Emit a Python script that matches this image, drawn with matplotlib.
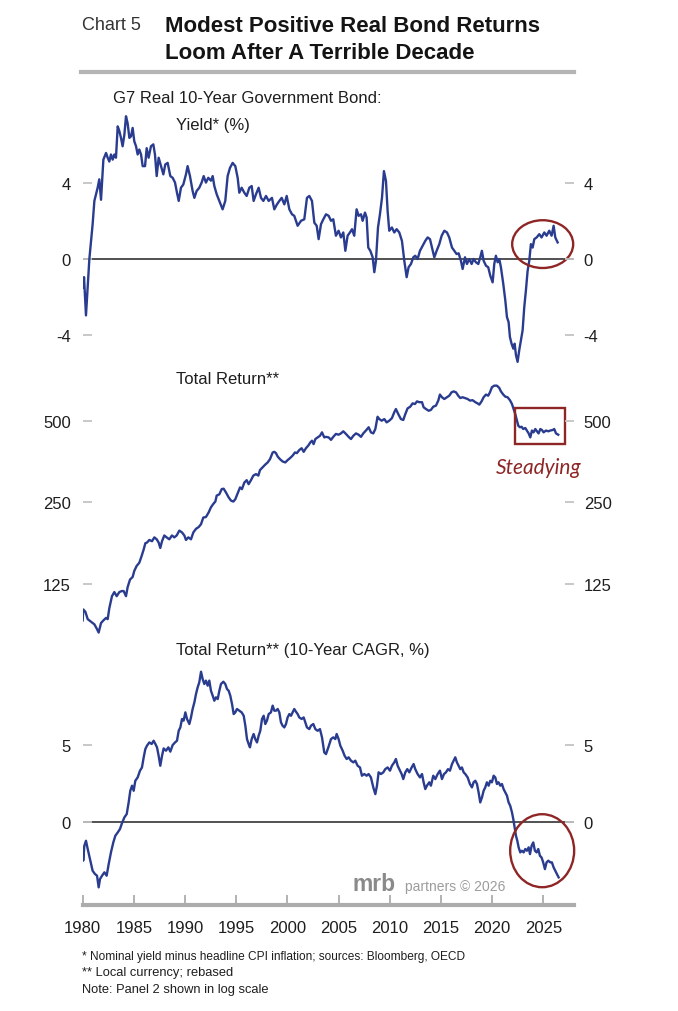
import matplotlib
matplotlib.use("Agg")
import matplotlib.pyplot as plt
from matplotlib.patches import Ellipse, Rectangle
from matplotlib.lines import Line2D
from matplotlib.ticker import FixedLocator, FixedFormatter, NullLocator

plt.rcParams['font.family'] = ['Liberation Sans', 'DejaVu Sans']

# Painel 1: rendimento real (%)
anos_yield = [1980.0, 1980.07, 1980.13, 1980.32, 1980.65, 1980.97, 1981.14, 1981.46, 1981.62, 1981.79,
              1982.02, 1982.28, 1982.44, 1982.60, 1982.76, 1982.93, 1983.09, 1983.25, 1983.42, 1983.58,
              1983.74, 1983.90, 1984.07, 1984.23, 1984.39, 1984.56, 1984.72, 1984.88, 1985.04, 1985.21,
              1985.37, 1985.53, 1985.70, 1985.86, 1986.09, 1986.25, 1986.44, 1986.67, 1986.90, 1987.06,
              1987.23, 1987.42, 1987.65, 1987.88, 1988.07, 1988.30, 1988.56, 1988.79, 1989.02, 1989.21,
              1989.38, 1989.60, 1989.83, 1990.09, 1990.25, 1990.48, 1990.74, 1990.91, 1991.13, 1991.39,
              1991.62, 1991.82, 1992.04, 1992.27, 1992.53, 1992.70, 1992.86, 1993.09, 1993.35, 1993.67,
              1993.93, 1994.16, 1994.39, 1994.65, 1994.91, 1995.14, 1995.30, 1995.53, 1995.79, 1996.02,
              1996.28, 1996.51, 1996.70, 1996.93, 1997.19, 1997.42, 1997.65, 1997.91, 1998.17, 1998.49,
              1998.72, 1998.98, 1999.21, 1999.44, 1999.70, 1999.93, 2000.19, 2000.45, 2000.67, 2001.00,
              2001.33, 2001.65, 2001.91, 2002.14, 2002.40, 2002.63, 2002.86, 2003.05, 2003.28, 2003.51,
              2003.77, 2004.03, 2004.26, 2004.48, 2004.74, 2005.00, 2005.23, 2005.46, 2005.66, 2005.88,
              2006.11, 2006.31, 2006.53, 2006.76, 2006.96, 2007.19, 2007.35, 2007.58, 2007.74, 2007.90,
              2008.10, 2008.33, 2008.49, 2008.65, 2008.85, 2009.04, 2009.24, 2009.43, 2009.63, 2009.79,
              2009.95, 2010.21, 2010.44, 2010.67, 2010.93, 2011.19, 2011.42, 2011.65, 2011.84, 2012.07,
              2012.30, 2012.49, 2012.72, 2012.95, 2013.21, 2013.47, 2013.70, 2013.93, 2014.12, 2014.35,
              2014.58, 2014.84, 2015.07, 2015.33, 2015.59, 2015.81, 2016.08, 2016.30, 2016.53, 2016.73,
              2016.95, 2017.12, 2017.35, 2017.54, 2017.77, 2018.00, 2018.19, 2018.42, 2018.65, 2018.84,
              2019.00, 2019.17, 2019.40, 2019.62, 2019.82, 2020.05, 2020.21, 2020.37, 2020.54, 2020.70,
              2020.86, 2021.09, 2021.29, 2021.45, 2021.61, 2021.74, 2021.90, 2022.07, 2022.20, 2022.33,
              2022.49, 2022.65, 2022.82, 2022.98, 2023.14, 2023.30, 2023.47, 2023.63, 2023.79, 2023.96,
              2024.12, 2024.35, 2024.61, 2024.83, 2025.10, 2025.32, 2025.58, 2025.81, 2026.01, 2026.17,
              2026.40]
valores_yield = [-1.0, -1.5, -0.95, -2.95, 0.0, 1.82, 3.04, 3.73, 4.17, 3.1,
                 5.2, 5.55, 5.3, 5.1, 5.47, 5.2, 5.47, 5.3, 6.94, 6.7,
                 6.34, 5.9, 6.5, 7.47, 7.1, 6.34, 6.42, 6.86, 6.16, 5.9,
                 5.47, 5.73, 5.47, 4.86, 4.86, 5.8, 5.3, 5.9, 6.0, 5.47,
                 4.34, 5.3, 4.86, 4.43, 4.95, 5.03, 4.34, 4.25, 4.0, 3.47,
                 3.04, 3.73, 3.9, 4.43, 4.86, 4.34, 3.56, 3.2, 3.56, 3.73,
                 4.0, 4.34, 4.0, 4.25, 4.1, 4.34, 3.82, 3.39, 3.04, 2.6,
                 3.04, 4.34, 4.77, 5.03, 4.86, 4.25, 3.47, 3.73, 3.47, 3.3,
                 3.73, 3.82, 3.04, 3.39, 3.73, 3.2, 3.04, 3.3, 3.04, 3.2,
                 2.6, 2.86, 3.04, 3.2, 2.86, 3.3, 2.6, 2.34, 2.26, 1.74,
                 2.0, 2.08, 3.2, 3.3, 3.04, 1.9, 1.74, 1.04, 1.82, 2.08,
                 2.34, 2.26, 2.0, 2.08, 1.22, 1.48, 1.13, 1.39, 0.43, 1.22,
                 1.39, 1.56, 1.22, 2.6, 2.26, 2.34, 2.0, 2.43, 2.17, 0.6,
                 0.43, 0.09, -0.69, -0.09, 1.65, 2.34, 3.2, 4.6, 4.08, 2.52,
                 1.48, 1.65, 1.39, 1.56, 1.39, 0.95, -0.09, -0.95, -0.43, -0.26,
                 0.09, 0.17, 0.0, 0.43, 0.69, 0.95, 1.13, 1.04, 0.6, 0.09,
                 0.43, 0.78, 1.22, 1.48, 1.39, 1.13, 0.6, 0.43, 0.26, 0.3,
                 -0.09, -0.52, 0.09, -0.26, 0.0, -0.26, 0.0, -0.17, -0.26, 0.09,
                 0.43, -0.09, -0.35, -0.43, -0.87, -1.22, -0.26, 0.17, -0.17, 0.0,
                 -0.43, -1.3, -2.17, -3.04, -3.3, -4.08, -4.43, -4.69, -4.43, -5.03,
                 -5.38, -4.77, -4.25, -3.73, -2.52, -1.65, -0.61, -0.09, 0.78, 0.6,
                 1.04, 1.13, 1.3, 1.13, 1.39, 1.22, 1.48, 1.22, 1.74, 1.13,
                 0.87]

# Painel 2: retorno total (indice, escala log)
anos_retorno = [1980.0, 1980.05, 1980.26, 1980.49, 1980.81, 1981.14, 1981.36, 1981.56, 1981.79, 1982.02,
                1982.28, 1982.44, 1982.60, 1982.86, 1983.09, 1983.32, 1983.58, 1983.81, 1984.00, 1984.23,
                1984.39, 1984.62, 1984.88, 1985.04, 1985.27, 1985.53, 1985.76, 1985.96, 1986.12, 1986.28,
                1986.51, 1986.77, 1987.00, 1987.23, 1987.42, 1987.58, 1987.75, 1987.97, 1988.20, 1988.46,
                1988.72, 1988.95, 1989.18, 1989.44, 1989.70, 1989.93, 1990.09, 1990.32, 1990.58, 1990.81,
                1991.07, 1991.33, 1991.56, 1991.78, 1992.04, 1992.31, 1992.53, 1992.76, 1992.96, 1993.09,
                1993.35, 1993.58, 1993.77, 1994.00, 1994.26, 1994.49, 1994.72, 1994.91, 1995.14, 1995.37,
                1995.56, 1995.79, 1996.02, 1996.21, 1996.44, 1996.67, 1996.93, 1997.16, 1997.32, 1997.58,
                1997.81, 1998.07, 1998.30, 1998.56, 1998.72, 1998.88, 1999.05, 1999.27, 1999.53, 1999.79,
                2000.02, 2000.25, 2000.51, 2000.74, 2000.93, 2001.16, 2001.39, 2001.59, 2001.81, 2002.04,
                2002.24, 2002.40, 2002.56, 2002.73, 2002.95, 2003.18, 2003.38, 2003.60, 2003.77, 2004.03,
                2004.26, 2004.48, 2004.74, 2005.00, 2005.23, 2005.46, 2005.72, 2005.98, 2006.21, 2006.44,
                2006.70, 2006.96, 2007.19, 2007.41, 2007.67, 2007.94, 2008.16, 2008.39, 2008.59, 2008.81,
                2008.98, 2009.21, 2009.47, 2009.69, 2009.95, 2010.21, 2010.44, 2010.60, 2010.83, 2011.09,
                2011.32, 2011.52, 2011.74, 2012.00, 2012.23, 2012.46, 2012.66, 2012.88, 2013.15, 2013.31,
                2013.54, 2013.80, 2014.02, 2014.25, 2014.51, 2014.74, 2014.90, 2015.10, 2015.33, 2015.59,
                2015.81, 2016.04, 2016.24, 2016.47, 2016.69, 2016.89, 2017.12, 2017.35, 2017.61, 2017.83,
                2018.09, 2018.36, 2018.58, 2018.75, 2018.97, 2019.17, 2019.40, 2019.62, 2019.79, 2019.98,
                2020.21, 2020.47, 2020.70, 2020.86, 2021.09, 2021.29, 2021.51, 2021.74, 2021.94, 2022.10,
                2022.26, 2022.43, 2022.56, 2022.72, 2022.88, 2023.04, 2023.24, 2023.40, 2023.57, 2023.73,
                2023.89, 2024.05, 2024.22, 2024.38, 2024.54, 2024.71, 2024.87, 2025.03, 2025.26, 2025.49,
                2025.68, 2025.91, 2026.07, 2026.24, 2026.46]
valores_retorno = [92, 101, 99, 93, 91, 89, 86, 83, 90, 92,
                   94, 93, 102, 113, 117, 113, 117, 118, 118, 113,
                   122, 130, 133, 140, 146, 150, 159, 168, 177, 178,
                   182, 180, 186, 183, 178, 170, 180, 189, 186, 183,
                   189, 186, 189, 197, 194, 189, 182, 186, 183, 194,
                   200, 203, 208, 220, 221, 230, 240, 247, 252, 265,
                   268, 280, 281, 272, 261, 254, 252, 257, 270, 284,
                   280, 296, 302, 292, 302, 314, 318, 314, 329, 337,
                   344, 351, 361, 382, 384, 380, 369, 361, 354, 351,
                   358, 364, 372, 382, 380, 390, 396, 384, 396, 405,
                   416, 422, 410, 428, 434, 440, 453, 434, 436, 434,
                   425, 436, 447, 444, 449, 457, 447, 436, 428, 440,
                   449, 444, 436, 449, 460, 473, 453, 449, 466, 517,
                   507, 500, 507, 493, 500, 511, 537, 552, 529, 507,
                   503, 529, 555, 563, 579, 576, 589, 585, 585, 560,
                   552, 544, 548, 563, 568, 593, 624, 610, 601, 610,
                   618, 636, 641, 636, 618, 606, 610, 606, 601, 593,
                   595, 585, 579, 573, 589, 610, 624, 618, 636, 664,
                   673, 673, 660, 641, 624, 613, 610, 595, 576, 552,
                   529, 500, 479, 473, 475, 466, 470, 460, 449, 434,
                   460, 453, 466, 457, 449, 466, 462, 453, 460, 457,
                   460, 462, 466, 449, 444]

# Painel 3: retorno total, CAGR 10 anos (%)
anos_cagr = [1980.0, 1980.05, 1980.16, 1980.32, 1980.49, 1980.71, 1980.97, 1981.20, 1981.40, 1981.56,
             1981.69, 1981.89, 1982.12, 1982.34, 1982.54, 1982.76, 1982.99, 1983.19, 1983.42, 1983.64,
             1983.84, 1984.07, 1984.30, 1984.49, 1984.65, 1984.82, 1984.98, 1985.14, 1985.37, 1985.60,
             1985.79, 1985.96, 1986.12, 1986.28, 1986.51, 1986.74, 1986.93, 1987.10, 1987.26, 1987.42,
             1987.58, 1987.75, 1987.91, 1988.14, 1988.37, 1988.56, 1988.79, 1989.02, 1989.21, 1989.38,
             1989.54, 1989.70, 1989.86, 1990.03, 1990.19, 1990.42, 1990.58, 1990.74, 1990.91, 1991.07,
             1991.23, 1991.39, 1991.56, 1991.72, 1991.88, 1992.04, 1992.21, 1992.37, 1992.53, 1992.70,
             1992.86, 1993.02, 1993.19, 1993.35, 1993.51, 1993.74, 1993.93, 1994.10, 1994.26, 1994.42,
             1994.59, 1994.75, 1994.91, 1995.07, 1995.30, 1995.53, 1995.73, 1995.89, 1996.05, 1996.21,
             1996.34, 1996.51, 1996.70, 1996.86, 1997.03, 1997.19, 1997.35, 1997.52, 1997.68, 1997.84,
             1998.00, 1998.17, 1998.39, 1998.56, 1998.72, 1998.88, 1999.05, 1999.21, 1999.37, 1999.53,
             1999.70, 1999.86, 2000.02, 2000.19, 2000.35, 2000.51, 2000.67, 2000.84, 2001.00, 2001.16,
             2001.39, 2001.59, 2001.75, 2001.91, 2002.14, 2002.30, 2002.53, 2002.73, 2002.95, 2003.18,
             2003.38, 2003.60, 2003.77, 2004.00, 2004.26, 2004.48, 2004.68, 2004.81, 2005.00, 2005.17,
             2005.40, 2005.59, 2005.79, 2005.98, 2006.21, 2006.44, 2006.63, 2006.86, 2007.09, 2007.28,
             2007.51, 2007.74, 2007.93, 2008.16, 2008.39, 2008.59, 2008.75, 2008.91, 2009.14, 2009.37,
             2009.56, 2009.79, 2010.02, 2010.21, 2010.44, 2010.60, 2010.77, 2010.93, 2011.16, 2011.32,
             2011.52, 2011.71, 2011.91, 2012.14, 2012.33, 2012.49, 2012.72, 2012.95, 2013.15, 2013.31,
             2013.47, 2013.63, 2013.86, 2014.02, 2014.25, 2014.45, 2014.68, 2014.90, 2015.10, 2015.30,
             2015.49, 2015.69, 2015.88, 2016.08, 2016.24, 2016.40, 2016.56, 2016.73, 2016.89, 2017.05,
             2017.22, 2017.38, 2017.61, 2017.83, 2018.03, 2018.19, 2018.36, 2018.52, 2018.68, 2018.84,
             2019.01, 2019.17, 2019.33, 2019.49, 2019.66, 2019.82, 2019.98, 2020.15, 2020.31, 2020.47,
             2020.63, 2020.80, 2020.96, 2021.12, 2021.29, 2021.45, 2021.61, 2021.77, 2021.94, 2022.07,
             2022.20, 2022.33, 2022.46, 2022.59, 2022.75, 2022.91, 2023.08, 2023.24, 2023.40, 2023.57,
             2023.70, 2023.86, 2024.02, 2024.18, 2024.35, 2024.51, 2024.67, 2024.83, 2024.99, 2025.16,
             2025.32, 2025.49, 2025.68, 2025.84, 2026.01, 2026.17, 2026.33, 2026.50]
valores_cagr = [-1.67, -2.54, -1.57, -1.24, -1.78, -2.43, -3.2, -3.41, -3.52, -4.28,
                -3.74, -3.52, -3.3, -3.52, -2.76, -2.0, -1.35, -0.91, -0.7, -0.48,
                -0.09, 0.28, 0.5, 1.26, 2.02, 2.35, 2.02, 2.67, 2.89, 3.33,
                3.54, 4.2, 4.74, 4.96, 5.17, 5.07, 5.28, 5.07, 4.85, 4.3,
                3.65, 4.3, 4.78, 4.63, 4.85, 4.57, 5.0, 5.17, 5.28, 5.93,
                6.15, 6.7, 6.59, 7.13, 6.7, 6.37, 6.8, 7.35, 7.78, 8.33,
                8.76, 9.09, 9.78, 9.3, 8.98, 9.2, 8.87, 9.2, 8.54, 8.22,
                7.89, 8.11, 8.0, 8.54, 8.98, 9.13, 8.98, 8.65, 8.54, 8.22,
                7.67, 7.02, 7.13, 7.35, 7.24, 7.13, 6.91, 6.26, 5.39, 5.07,
                4.85, 5.39, 5.72, 5.39, 5.17, 5.61, 5.93, 6.7, 6.91, 6.37,
                6.59, 7.02, 7.13, 7.57, 7.24, 7.24, 7.35, 7.13, 6.48, 6.26,
                6.15, 6.37, 6.8, 7.02, 6.91, 7.13, 7.35, 7.17, 7.02, 6.8,
                6.7, 6.8, 6.48, 6.15, 6.04, 6.26, 6.37, 6.04, 5.93, 6.04,
                5.5, 4.52, 4.41, 4.85, 5.39, 5.5, 5.39, 5.72, 5.39, 4.96,
                4.63, 4.3, 4.09, 4.2, 3.98, 3.87, 3.98, 3.65, 3.54, 3.0,
                3.11, 3.0, 3.11, 2.89, 2.24, 1.8, 2.35, 3.22, 3.11, 3.22,
                3.43, 3.54, 3.33, 3.65, 3.87, 4.09, 3.65, 3.43, 3.11, 2.78,
                3.22, 3.43, 3.22, 3.54, 3.76, 3.43, 3.11, 2.89, 3.11, 2.57,
                2.13, 2.35, 2.57, 2.35, 3.0, 2.78, 3.11, 3.33, 2.78, 3.11,
                3.22, 3.43, 3.33, 3.76, 3.98, 4.2, 3.87, 3.65, 3.43, 3.54,
                3.22, 3.11, 2.89, 2.46, 2.24, 2.57, 2.67, 2.46, 1.91, 1.26,
                1.59, 2.02, 2.24, 2.57, 2.35, 2.67, 2.57, 3.0, 2.89, 2.46,
                2.57, 2.35, 2.46, 2.13, 1.91, 1.7, 1.26, 1.04, 0.61, 0.17,
                -0.37, -0.91, -1.24, -1.67, -2.0, -1.89, -2.0, -1.78, -1.89, -1.67,
                -2.11, -1.57, -1.35, -1.89, -2.0, -1.78, -2.22, -2.33, -2.65, -3.09,
                -2.65, -2.54, -2.65, -2.65, -2.98, -3.2, -3.41, -3.63]

anos_eixo = [1980, 1985, 1990, 1995, 2000, 2005, 2010, 2015, 2020, 2025]
ticks_yield = [-4, 0, 4]
ticks_retorno = [125, 250, 500]
ticks_cagr = [0, 5]

AZUL = "#2a3c8f"
VERMELHO = "#8e2626"
CINZA_TICK = "#c4c4c4"
TEXTO = "#1e1e1e"

W_PX, H_PX = 678, 1012


def fx(x):
    return x / W_PX


def fy(y):
    return 1 - y / H_PX


def criarPainel(fig, topo, base, ylim, ticks, log=False):
    ax = fig.add_axes([fx(82.7), fy(base), fx(574.0) - fx(82.7), (base - topo) / H_PX])
    dir_ax = ax.twinx()
    for a in (ax, dir_ax):
        if log:
            a.set_yscale("log")
        a.set_ylim(*ylim)
        a.yaxis.set_major_locator(FixedLocator(ticks))
        a.yaxis.set_major_formatter(FixedFormatter([str(t) for t in ticks]))
        a.yaxis.set_minor_locator(NullLocator())
        for s in a.spines.values():
            s.set_visible(False)
        a.patch.set_visible(False)
    ax.tick_params(axis="y", direction="in", length=6.5, width=1.3, color=CINZA_TICK,
                   labelsize=12, labelcolor=TEXTO, pad=8.4)
    dir_ax.tick_params(axis="y", direction="in", length=6.5, width=1.3, color=CINZA_TICK,
                       labelsize=12, labelcolor=TEXTO, pad=7)
    ax.set_xlim(1980, 2028)
    ax.tick_params(axis="x", bottom=False, labelbottom=False)
    return ax


fig = plt.figure(figsize=(6.78, 10.12), dpi=100)

# cabecalho
fig.text(fx(82), fy(30.5), "Chart 5", fontsize=13, color="#333333", va="baseline")
fig.text(fx(165), fy(31.7), "Modest Positive Real Bond Returns", fontsize=16,
         fontweight="bold", color="#141414", va="baseline")
fig.text(fx(165), fy(58.7), "Loom After A Terrible Decade", fontsize=16,
         fontweight="bold", color="#141414", va="baseline")
fig.add_artist(Line2D([fx(81), fx(574)], [fy(73.4), fy(73.4)], lw=3, color="#b5b5b5"))
fig.text(fx(113), fy(103), "G7 Real 10-Year Government Bond:", fontsize=12, color=TEXTO, va="baseline")

# painel 1
ax1 = criarPainel(fig, 110, 368, (-5.65, 7.85), ticks_yield)
ax1.axhline(0, color="#222222", lw=1.1, zorder=1)
ax1.plot(anos_yield, valores_yield, color=AZUL, lw=1.7, zorder=3)
ax1.add_patch(Ellipse((2024.94, 0.78), 5.96, 2.5, fill=False, ec=VERMELHO, lw=1.7, zorder=4, clip_on=False))
fig.text(fx(176), fy(130), "Yield* (%)", fontsize=12, color=TEXTO, va="baseline")

# painel 2 (log)
ax2 = criarPainel(fig, 380, 640, (78.6, 712), ticks_retorno, log=True)
ax2.plot(anos_retorno, valores_retorno, color=AZUL, lw=1.7, zorder=3)
ax2.add_patch(Rectangle((2022.23, 411), 4.93, 144, fill=False, ec=VERMELHO, lw=1.7, zorder=4))
fig.text(fx(176), fy(384), "Total Return**", fontsize=12, color=TEXTO, va="baseline")
fig.text(fx(496), fy(474), "Steadying", fontsize=15, color=VERMELHO, style="italic",
         family=["Lato", "DejaVu Sans"], va="baseline")

# painel 3
ax3 = criarPainel(fig, 662, 906, (-5.43, 10.48), ticks_cagr)
ax3.axhline(0, color="#222222", lw=1.1, zorder=1)
ax3.plot(anos_cagr, valores_cagr, color=AZUL, lw=1.7, zorder=3)
ax3.add_patch(Ellipse((2024.89, -1.89), 6.25, 4.76, fill=False, ec=VERMELHO, lw=1.7, zorder=4, clip_on=False))
fig.text(fx(176), fy(655), "Total Return** (10-Year CAGR, %)", fontsize=12, color=TEXTO, va="baseline")

ax3.spines["bottom"].set_visible(True)
ax3.spines["bottom"].set_color("#acacac")
ax3.spines["bottom"].set_linewidth(3)
ax3.set_xticks(anos_eixo)
ax3.set_xticklabels([str(a) for a in anos_eixo])
ax3.tick_params(axis="x", bottom=True, labelbottom=True, direction="in", length=7, width=1.3,
                color="#acacac", labelsize=12, labelcolor=TEXTO, pad=11)

# logo
fig.text(fx(353), fy(891), "mrb", fontsize=16.5, fontweight="bold", color="#8a8a8a", va="baseline")
fig.text(fx(405), fy(891), "partners \u00a9 2026", fontsize=10, color="#9c9c9c", va="baseline")

# notas
fig.text(fx(82), fy(960), "* Nominal yield minus headline CPI inflation; sources: Bloomberg, OECD",
         fontsize=8.6, color=TEXTO, va="baseline")
fig.text(fx(82), fy(976), "** Local currency; rebased", fontsize=9.3, color=TEXTO, va="baseline")
fig.text(fx(82), fy(993), "Note: Panel 2 shown in log scale", fontsize=9.3, color=TEXTO, va="baseline")

fig.savefig("out.png", dpi=100)
